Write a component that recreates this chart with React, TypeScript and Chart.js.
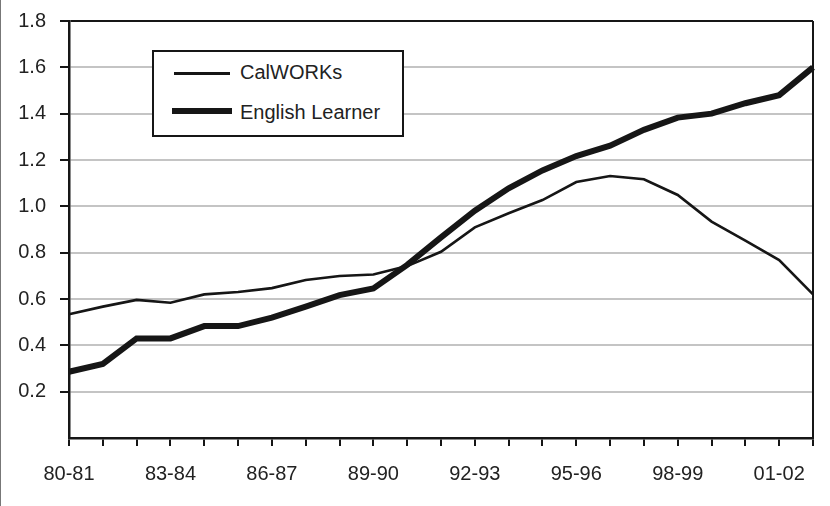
import React, { useEffect, useRef } from "react";
import { Chart, registerables } from "chart.js";

Chart.register(...registerables);

const categories = [
  "80-81", "81-82", "82-83", "83-84", "84-85", "85-86", "86-87", "87-88",
  "88-89", "89-90", "90-91", "91-92", "92-93", "93-94", "94-95", "95-96",
  "96-97", "97-98", "98-99", "99-00", "00-01", "01-02", "02-03",
];

const calWorks = [
  0.534, 0.567, 0.596, 0.584, 0.62, 0.63, 0.647, 0.682, 0.699, 0.706, 0.742,
  0.804, 0.909, 0.97, 1.027, 1.105, 1.131, 1.117, 1.049, 0.934, 0.852, 0.768,
  0.62,
];

const englishLearner = [
  0.286, 0.32, 0.43, 0.43, 0.483, 0.483, 0.52, 0.567, 0.617, 0.646, 0.747,
  0.866, 0.981, 1.078, 1.155, 1.217, 1.262, 1.33, 1.383, 1.4, 1.445, 1.48,
  1.6,
];

const yTickValues = [0.2, 0.4, 0.6, 0.8, 1.0, 1.2, 1.4, 1.6, 1.8];

const FONT = "'Liberation Sans', Arial, sans-serif";
const INK = "#161616";

export default function App() {
  const ref = useRef<HTMLCanvasElement | null>(null);

  useEffect(() => {
    const canvas = ref.current;
    if (!canvas) return;
    const chart = new Chart(canvas, {
      type: "line",
      data: {
        labels: categories,
        datasets: [
          {
            label: "CalWORKs",
            data: calWorks,
            borderColor: INK,
            borderWidth: 2.6,
            pointRadius: 0,
            tension: 0,
            fill: false,
          },
          {
            label: "English Learner",
            data: englishLearner,
            borderColor: INK,
            borderWidth: 6,
            pointRadius: 0,
            tension: 0,
            fill: false,
          },
        ],
      },
      options: {
        animation: false,
        responsive: false,
        devicePixelRatio: 1,
        layout: { padding: { top: 21, right: 17, left: 0, bottom: 0 } },
        plugins: {
          legend: { display: false },
          tooltip: { enabled: false },
        },
        scales: {
          y: {
            min: 0,
            max: 1.8,
            afterFit: (scale: any) => {
              scale.width = 69;
              scale.paddingTop = 0;
              scale.paddingBottom = 0;
            },
            afterBuildTicks: (scale: any) => {
              scale.ticks = [{ value: 0 }, ...yTickValues.map((v) => ({ value: v }))];
            },
            ticks: {
              callback: (v: any) => (Number(v) === 0 ? "" : Number(v).toFixed(1)),
              font: { family: FONT, size: 20 },
              color: "#222",
              padding: 14,
            },
            grid: {
              color: (ctx: any) =>
                ctx.tick && Math.abs(ctx.tick.value - 1.8) < 1e-6 ? INK : "#c4c4c4",
              lineWidth: 2,
              tickLength: 9,
              tickColor: (ctx: any) =>
                ctx.tick && ctx.tick.value === 0 ? "rgba(0,0,0,0)" : INK,
              tickWidth: 2,
            },
            border: { display: true, color: INK, width: 2.5 },
          },
          x: {
            afterFit: (scale: any) => {
              scale.height = 68;
              scale.paddingLeft = 0;
              scale.paddingRight = 0;
            },
            ticks: {
              autoSkip: false,
              maxRotation: 0,
              minRotation: 0,
              callback: (_v: any, i: number) => (i % 3 === 0 ? categories[i] : ""),
              font: { family: FONT, size: 20 },
              color: "#222",
              padding: 16,
            },
            grid: {
              color: (ctx: any) =>
                ctx.index === categories.length - 1 ? INK : "rgba(0,0,0,0)",
              lineWidth: 2,
              tickLength: 8,
              tickColor: INK,
              tickWidth: 2,
            },
            border: { display: true, color: INK, width: 2.5 },
          },
        },
      },
    });
    return () => chart.destroy();
  }, []);

  const legendText: React.CSSProperties = {
    position: "absolute",
    fontFamily: FONT,
    fontSize: 20,
    lineHeight: "20px",
    color: "#222",
    whiteSpace: "nowrap",
  };

  return (
    <div
      style={{
        position: "fixed",
        left: 0,
        top: 0,
        width: 830,
        height: 506,
        background: "#fff",
        overflow: "hidden",
      }}
    >
      <canvas ref={ref} width={830} height={506} style={{ width: 830, height: 506, display: "block" }} />
      <div
        style={{
          position: "absolute",
          left: 0,
          top: 0,
          width: 1,
          height: 506,
          background: "#777",
        }}
      />
      <div
        style={{
          position: "absolute",
          left: 152,
          top: 50,
          width: 252,
          height: 87,
          boxSizing: "border-box",
          border: `2px solid ${INK}`,
          background: "#fff",
        }}
      />
      <div style={{ position: "absolute", left: 174, top: 72, width: 56, height: 3, background: INK }} />
      <div style={{ position: "absolute", left: 172, top: 108, width: 60, height: 6, background: INK }} />
      <div style={{ ...legendText, left: 240, top: 62 }}>CalWORKs</div>
      <div style={{ ...legendText, left: 240, top: 102 }}>English Learner</div>
    </div>
  );
}
